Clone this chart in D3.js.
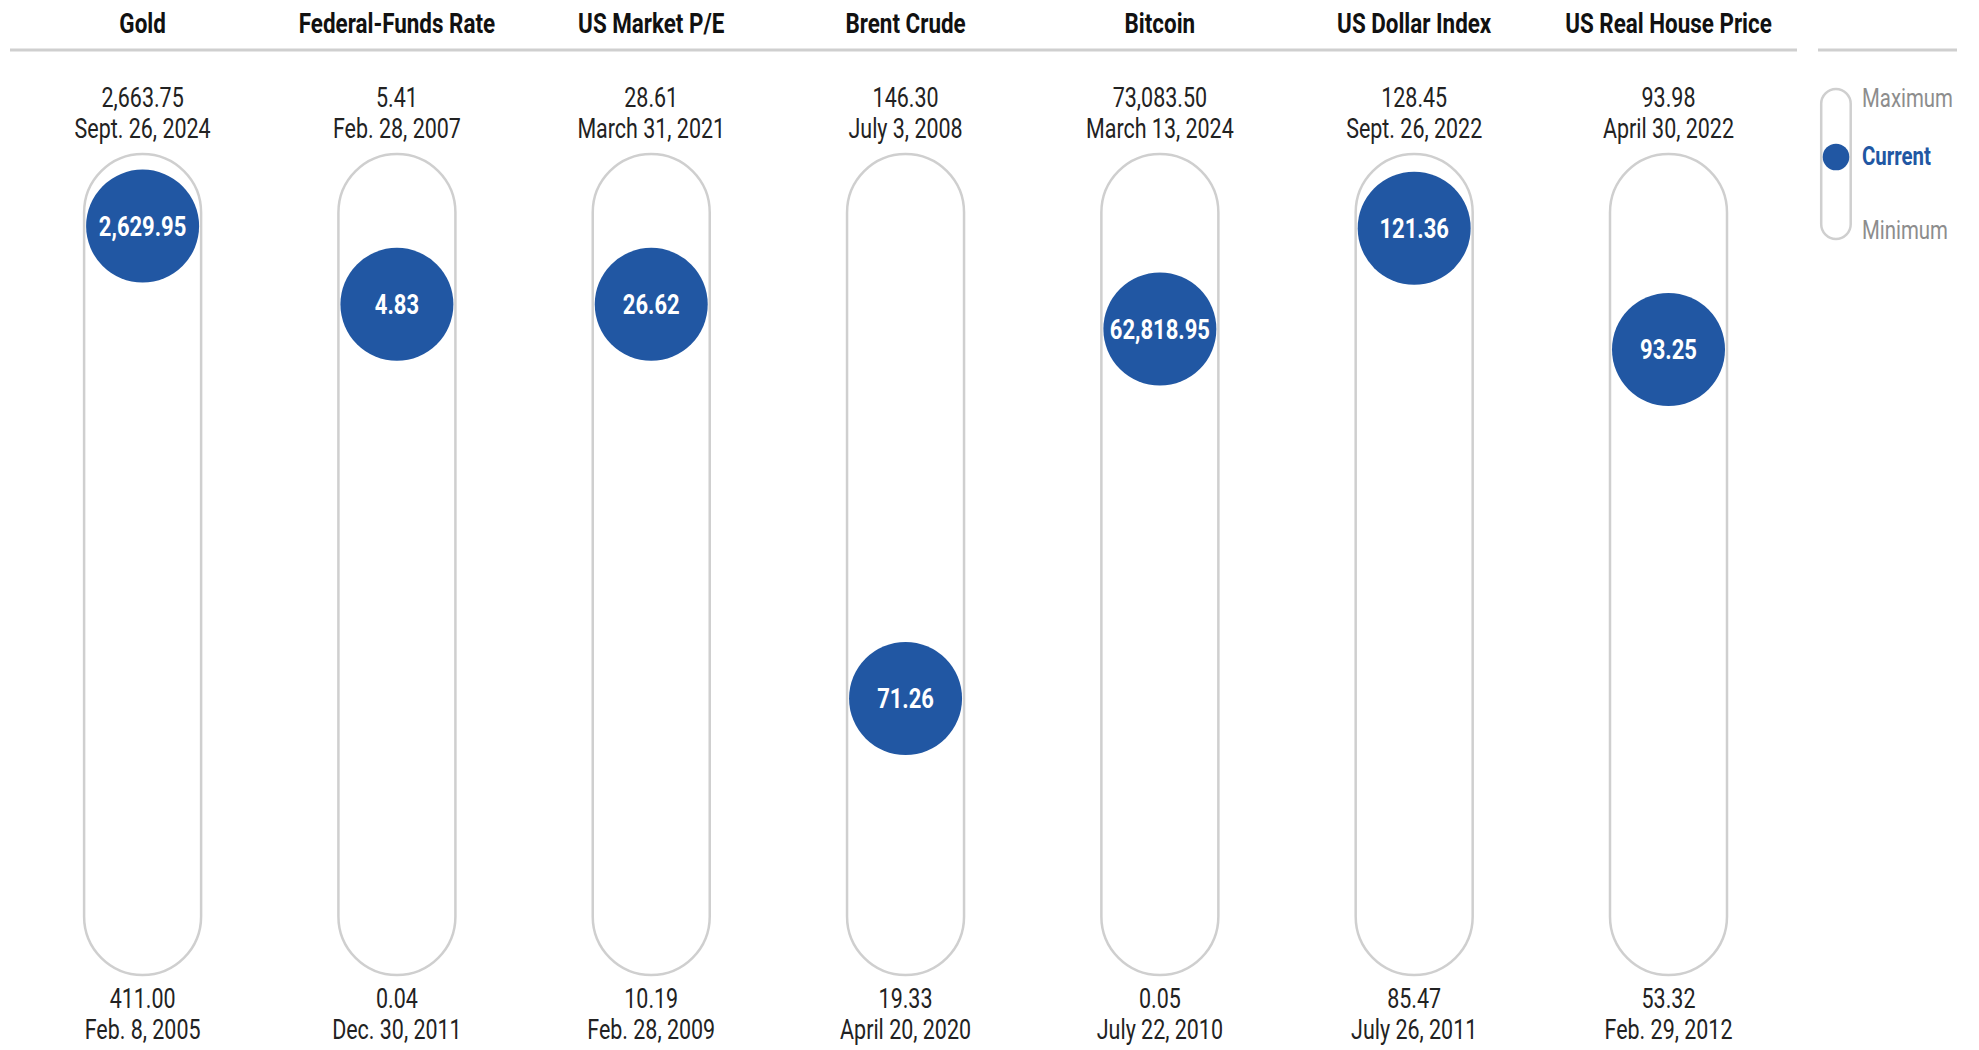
<!DOCTYPE html>
<html>
<head>
<meta charset="utf-8">
<script src="https://cdn.jsdelivr.net/npm/d3@7"></script>
<style>
  html, body { margin: 0; padding: 0; background: #ffffff; }
  svg { display: block; }
  text { font-family: Roboto, "Liberation Sans", sans-serif; }
</style>
</head>
<body>
<svg id="chart" width="1979" height="1050"></svg>
<script>
// Indicators shown, one column each
const categories = ["Gold", "Federal-Funds Rate", "US Market P/E", "Brent Crude", "Bitcoin", "US Dollar Index", "US Real House Price"];
// Latest reading
const currentValues = [2629.95, 4.83, 26.62, 71.26, 62818.95, 121.36, 93.25];
// Where the latest reading sits within its own history (percent)
const currentPercentile = [98.0, 86.9, 86.9, 31.0, 83.4, 97.7, 80.5];
// Historical highs and their dates
const maxValues = [2663.75, 5.41, 28.61, 146.30, 73083.50, 128.45, 93.98];
const maxDates = ["Sept. 26, 2024", "Feb. 28, 2007", "March 31, 2021", "July 3, 2008", "March 13, 2024", "Sept. 26, 2022", "April 30, 2022"];
// Historical lows and their dates
const minValues = [411.00, 0.04, 10.19, 19.33, 0.05, 85.47, 53.32];
const minDates = ["Feb. 8, 2005", "Dec. 30, 2011", "Feb. 28, 2009", "April 20, 2020", "July 22, 2010", "July 26, 2011", "Feb. 29, 2012"];
// Legend entries
const legendLabels = ["Maximum", "Current", "Minimum"];

const BLUE = "#2157a3";
const GRAY_LINE = "#cfcfcf";
const TEXT = "#222222";
const SX = 0.8; // horizontal squeeze for a condensed look

const svg = d3.select("#chart");
const fmt = d3.format(",.2f");

const x = d3.scalePoint().domain(categories).range([142.6, 1668.5]);

const pillTop = 154, pillBottom = 975, pillW = 117;
const r = 56.5;
const y = d3.scaleLinear().domain([0, 100]).range([917, 212]);

function label(g, tx, ty, str, opts) {
  return g.append("text")
    .attr("transform", `translate(${tx},${ty}) scale(${opts.sx || SX},1)`)
    .attr("text-anchor", opts.anchor || "middle")
    .attr("font-size", opts.size)
    .attr("font-weight", opts.weight || 400)
    .attr("fill", opts.fill || TEXT)
    .text(str);
}

// header rule
svg.append("line").attr("x1", 10).attr("x2", 1797).attr("y1", 50).attr("y2", 50)
  .attr("stroke", GRAY_LINE).attr("stroke-width", 3);
svg.append("line").attr("x1", 1818).attr("x2", 1957).attr("y1", 50).attr("y2", 50)
  .attr("stroke", GRAY_LINE).attr("stroke-width", 3);

const cols = svg.selectAll("g.col")
  .data(categories.map((c, i) => ({
    name: c, cur: currentValues[i], pct: currentPercentile[i],
    max: maxValues[i], maxDate: maxDates[i], min: minValues[i], minDate: minDates[i]
  })))
  .join("g").attr("class", "col");

cols.each(function (d) {
  const g = d3.select(this);
  const cx = x(d.name);
  label(g, cx, 32.5, d.name, { size: 27, weight: 700, fill: "#111", sx: 0.83 });
  label(g, cx, 107, fmt(d.max), { size: 27.5, sx: 0.78 });
  label(g, cx, 138, d.maxDate, { size: 27.5, sx: 0.78 });
  label(g, cx, 1008, fmt(d.min), { size: 27.5, sx: 0.78 });
  label(g, cx, 1039, d.minDate, { size: 27.5, sx: 0.78 });

  g.append("rect")
    .attr("x", cx - pillW / 2).attr("y", pillTop)
    .attr("width", pillW).attr("height", pillBottom - pillTop)
    .attr("rx", pillW / 2).attr("ry", pillW / 2)
    .attr("fill", "none").attr("stroke", GRAY_LINE).attr("stroke-width", 2.5);

  const cy = y(d.pct);
  g.append("circle").attr("cx", cx).attr("cy", cy).attr("r", r).attr("fill", BLUE);
  label(g, cx, cy + 10, fmt(d.cur), { size: 27.5, weight: 700, fill: "#ffffff" });
});

// legend
const lg = svg.append("g").attr("class", "legend");
lg.append("rect").attr("x", 1821.2).attr("y", 89).attr("width", 29.5).attr("height", 150)
  .attr("rx", 14.75).attr("ry", 14.75)
  .attr("fill", "none").attr("stroke", GRAY_LINE).attr("stroke-width", 2.5);
lg.append("circle").attr("cx", 1836).attr("cy", 157).attr("r", 13.3).attr("fill", BLUE);
const legendY = [106.5, 165, 239];
legendLabels.forEach((t, i) => {
  label(lg, 1862, legendY[i], t, {
    size: 25.5, anchor: "start",
    weight: i === 1 ? 700 : 400,
    fill: i === 1 ? BLUE : "#8d8d8d"
  });
});
</script>
</body>
</html>
